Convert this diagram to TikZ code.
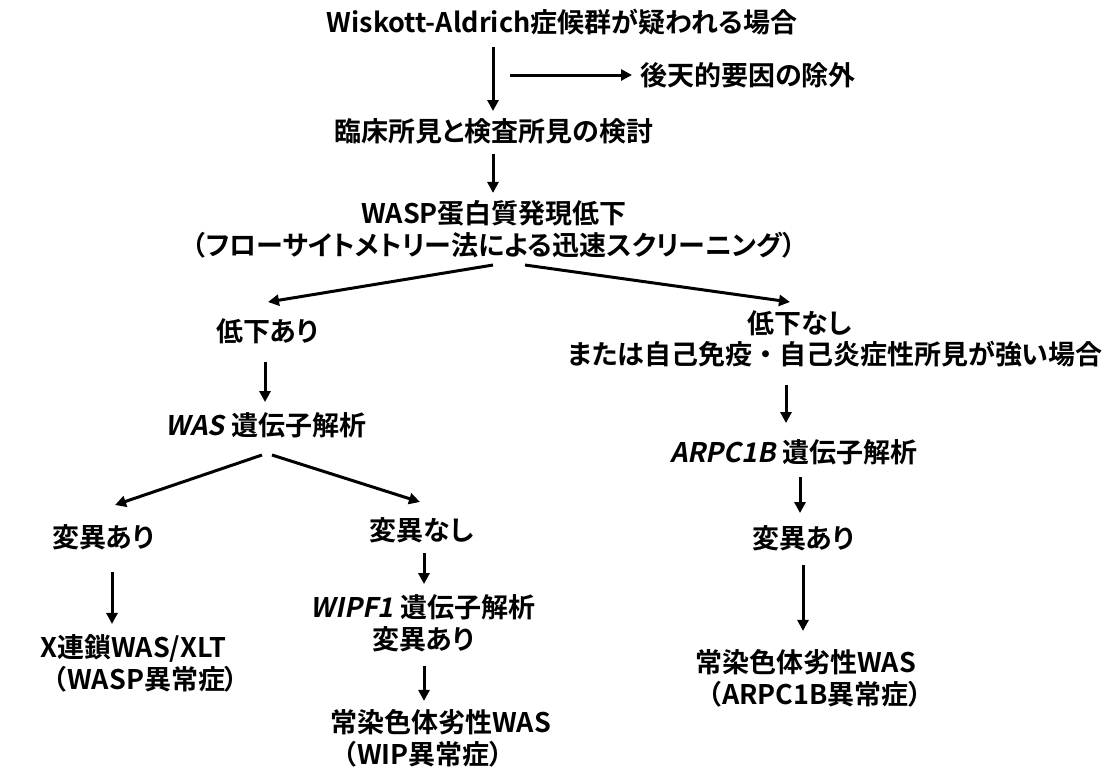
\documentclass[tikz,border=0pt]{standalone}
\usepackage{fontspec}
\setmainfont{Noto Sans CJK JP}[BoldFont=* Bold, ItalicFont=*, ItalicFeatures={FakeSlant=0.2}, BoldItalicFont=* Bold, BoldItalicFeatures={FakeSlant=0.2}, RawFeature=+palt]
\newfontfamily\fw{Noto Sans CJK JP}[BoldFont=* Bold]
\usetikzlibrary{arrows.meta,calc}
\newcommand\gi[1]{{\itshape #1}\hspace{0.25em}}
\begin{document}
\begin{tikzpicture}[x=1pt,y=-1pt,
  t/.style={inner sep=0pt, font=\fontsize{27}{32}\selectfont\bfseries, align=center},
  tl/.style={t, align=left, anchor=west},
  arr/.style={line width=3pt, -{Triangle[length=11pt,width=11pt]}}]
\useasboundingbox (0,0) rectangle (1104,769);
% nodes
\node[t] (top) at (562,22) {Wiskott-Aldrich症候群が疑われる場合};
\node[t, anchor=west] (acq) at (640,75) {後天的要因の除外};
\node[t] (clin) at (494,131) {臨床所見と検査所見の検討};
\node[t] (wasp) at (494,229) {WASP蛋白質発現低下\\（フローサイトメトリー法による迅速スクリーニング）};
\node[t] (down) at (267,331) {低下あり};
\node[t] (nod) at (800,323) {低下なし};
\node[t] (nod2) at (835,354) {または自己免疫{\fw ・}自己炎症性所見が強い場合};
\node[t] (was) at (266,425) {\gi{WAS}遺伝子解析};
\node[t] (arp) at (794,452) {\gi{ARPC1B}遺伝子解析};
\node[t] (mutL) at (103,537) {変異あり};
\node[t] (mutN) at (422,530) {変異なし};
\node[t] (wipf) at (423,623) {\gi{WIPF1}遺伝子解析\\変異あり};
\node[t] (mutR) at (803,538) {変異あり};
\node[tl] (xl) at (40,663) {X連鎖WAS/XLT\\{\fw （}WASP異常症）};
\node[tl] (wip) at (330,738) {常染色体劣性WAS\\{\fw （}WIP異常症）};
\node[tl] (arpc) at (695,678) {常染色体劣性WAS\\{\fw （}ARPC1B異常症）};
% coordinates
\coordinate (s1) at (510,75);
\coordinate (f1) at (493,265);
\coordinate (f2) at (525,265);
\coordinate (f1e) at (268,302);
\coordinate (f2e) at (790,302);
\coordinate (g1) at (262,455);
\coordinate (g2) at (272,455);
\coordinate (g1e) at (115,505);
\coordinate (g2e) at (420,502);
\coordinate (cA) at (493,0);
\coordinate (cB) at (265,0);
\coordinate (cC) at (786,0);
\coordinate (cD) at (800,0);
\coordinate (cE) at (803,0);
\coordinate (cF) at (112,0);
\coordinate (cG) at (424,0);
% connectors
\draw[arr] ($(top.south -| cA)+(0,12)$) -- ($(clin.north -| cA)+(0,-7)$);
\draw[arr] (s1) -- ($(acq.west)+(-8,0)$);
\draw[arr] ($(clin.south -| cA)+(0,10)$) -- ($(wasp.north -| cA)+(0,-7)$);
\draw[arr] (f1) -- (f1e);
\draw[arr] (f2) -- (f2e);
\draw[arr] ($(down.south -| cB)+(0,18)$) -- ($(was.north -| cB)+(0,-10)$);
\draw[arr] ($(nod2.south -| cC)+(0,18)$) -- ($(arp.north -| cC)+(0,-16)$);
\draw[arr] (g1) -- (g1e);
\draw[arr] (g2) -- (g2e);
\draw[arr] ($(arp.south -| cD)+(0,12)$) -- ($(mutR.north -| cD)+(0,-12)$);
\draw[arr] ($(mutL.south -| cF)+(0,22)$) -- ($(xl.north -| cF)+(0,-10)$);
\draw[arr] ($(mutN.south -| cG)+(0,10)$) -- ($(wipf.north -| cG)+(0,-10)$);
\draw[arr] ($(wipf.south -| cG)+(0,14)$) -- ($(wip.north -| cG)+(0,-8)$);
\draw[arr] ($(mutR.south -| cE)+(0,14)$) -- ($(arpc.north -| cE)+(0,-18)$);
\end{tikzpicture}
\end{document}
